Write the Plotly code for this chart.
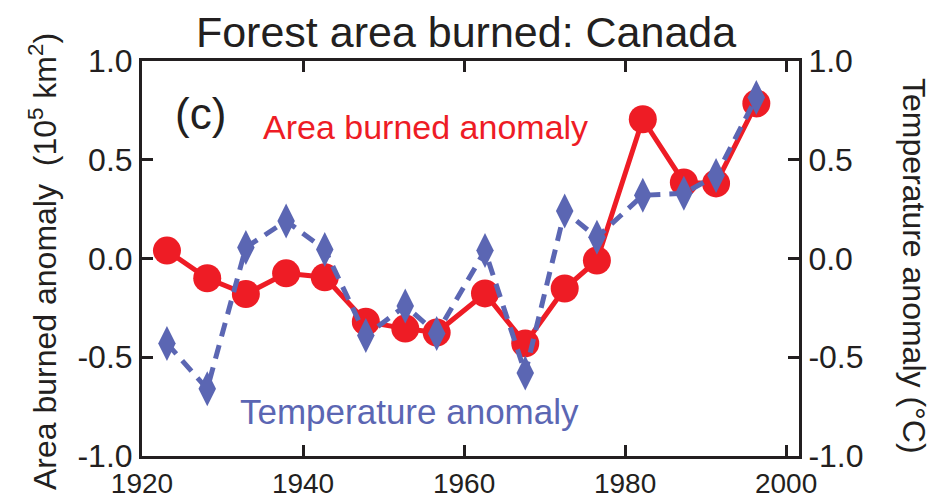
import plotly.graph_objects as go

# ---- data ----
area_years = [1923.1, 1928.1, 1932.9, 1937.9, 1942.7, 1947.8, 1952.7, 1956.6,
              1962.6, 1967.6, 1972.5, 1976.5, 1982.2, 1987.3, 1991.3, 1996.3]
area_vals = [0.04, -0.10, -0.18, -0.075, -0.095, -0.32, -0.355, -0.375,
             -0.177, -0.43, -0.152, -0.01, 0.705, 0.385, 0.38, 0.785]
temp_years = area_years
temp_vals = [-0.43, -0.66, 0.056, 0.19, 0.046, -0.39, -0.24, -0.38,
             0.04, -0.58, 0.24, 0.107, 0.32, 0.33, 0.42, 0.815]

x_ticks = [1920, 1940, 1960, 1980, 2000]
y_ticks = [-1.0, -0.5, 0.0, 0.5, 1.0]
y_ticktext = ["-1.0", "-0.5", "0.0", "0.5", "1.0"]

RED = "#ee1c25"
BLUE = "#5b66b3"
INK = "#231f20"
FONT = "Liberation Sans, Arial, Helvetica, sans-serif"

fig = go.Figure()
fig.add_trace(go.Scatter(
    x=area_years, y=area_vals, mode="lines+markers",
    line=dict(color=RED, width=5),
    marker=dict(symbol="circle", size=28, color=RED),
    showlegend=False,
))
fig.add_trace(go.Scatter(
    x=temp_years, y=temp_vals, mode="lines+markers", yaxis="y2",
    line=dict(color=BLUE, width=5, dash="14px,9px"),
    marker=dict(symbol="diamond-tall", size=25, color=BLUE),
    showlegend=False,
))

L, R, T, B = 142, 135, 61, 40
W, H = 934, 496
pw, ph = W - L - R, H - T - B

def px(xp):
    return (xp - L) / pw

def py(yp):
    return (H - B - yp) / ph

axis_common = dict(showline=True, linecolor=INK, linewidth=3, ticks="inside",
                   ticklen=11, tickwidth=3, tickcolor=INK, showgrid=False,
                   zeroline=False, automargin=False)
yfont = dict(family=FONT, size=32, color=INK)
xfont = dict(family=FONT, size=28, color=INK)

def ann(text, x, y, size, color=INK, angle=0):
    return dict(text=text, x=px(x), y=py(y), xref="paper", yref="paper",
                xanchor="center", yanchor="middle", showarrow=False,
                textangle=angle, font=dict(family=FONT, size=size, color=color))

fig.update_layout(
    width=W, height=H,
    margin=dict(l=L, r=R, t=T, b=B, pad=0, autoexpand=False),
    paper_bgcolor="white", plot_bgcolor="white",
    title=dict(text="Forest area burned: Canada", x=0.499, xanchor="center",
               y=1 - 32 / H, yanchor="middle", yref="container",
               font=dict(family=FONT, size=43, color=INK)),
    xaxis=dict(range=[1920, 2001.6], tickvals=x_ticks, mirror="ticks",
               tickfont=xfont, **axis_common),
    yaxis=dict(range=[-1, 1], tickvals=y_ticks, ticktext=y_ticktext,
               tickfont=yfont, **axis_common),
    yaxis2=dict(range=[-1, 1], tickvals=y_ticks, ticktext=y_ticktext,
                overlaying="y", side="right", tickfont=yfont, **axis_common),
    annotations=[
        ann("(c)", 200, 113, 44),
        ann("Area burned anomaly", 425, 127, 34, RED),
        ann("Temperature anomaly", 409, 411, 35, BLUE),
        ann("Area burned anomaly  (10<sup>5</sup> km<sup>2</sup>)", 43, 262, 32,
            angle=-90),
        ann("Temperature anomaly (°C)", 914, 266, 32, angle=90),
    ],
)

fig.write_html("out.html",
               config={"displayModeBar": False, "staticPlot": True},
               post_script="document.body.style.margin='0';"
                           "document.body.style.padding='0';")
